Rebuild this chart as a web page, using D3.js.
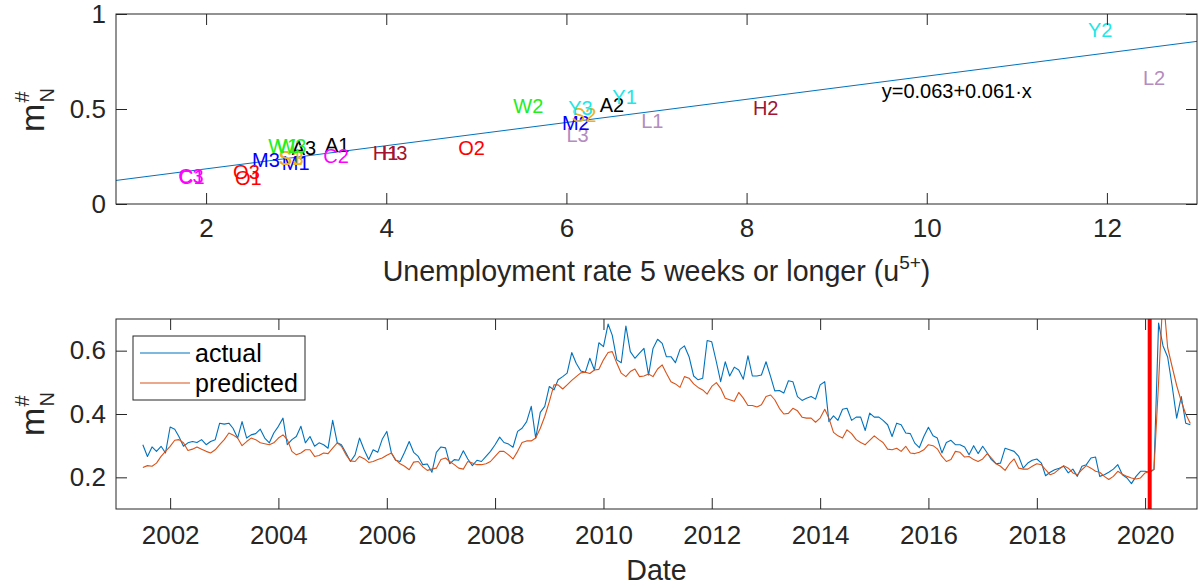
<!DOCTYPE html>
<html><head><meta charset="utf-8">
<script src="https://cdn.jsdelivr.net/npm/d3@7"></script>
<style>
body{margin:0;background:#fff}
text{font-family:"Liberation Sans",Arial,Helvetica,sans-serif}
</style>
</head><body>
<svg id="c" width="1198" height="587"></svg>
<script>
// ---------- DATA ----------
// top panel: labelled points (u5+ rate, m#_N)
const scatterLabels = ["A1","A2","A3","C1","C2","C3","H1","H2","H3","L1","L2","L3","M1","M2","M3","O1","O2","O3","S1","S2","S3","W1","W2","W3","Y1","Y2","Y3"];
const scatterX = [3.32,6.37,2.95,1.70,3.30,1.69,3.85,8.07,3.95,6.83,12.40,6.00,2.84,5.95,2.51,2.32,4.80,2.30,2.80,6.06,2.81,2.69,5.41,2.78,6.51,11.79,6.02];
const scatterY = [0.311,0.521,0.295,0.142,0.253,0.147,0.268,0.505,0.268,0.437,0.663,0.363,0.216,0.426,0.232,0.137,0.295,0.168,0.242,0.468,0.240,0.305,0.516,0.305,0.563,0.916,0.505];
const groupLetters = ["A","C","H","L","M","O","S","W","Y"];
const groupColors  = ["#000000","#ff00ff","#a2142f","#b48cc0","#0000ff","#ff0000","#edb120","#22ee22","#22e6e6"];
const regIntercept = 0.063;
const regSlope = 0.061;
const regText = "y=0.063+0.061·x";
const regTextPos = [9.5, 0.595];
const topXTicks = [2,4,6,8,10,12];
const topYTicks = [0,0.5,1];

// bottom panel: monthly series from Jul 2001 to Nov 2020
const seriesStart = [2001, 6];   // year, month index (July)
const actual = [
0.303,0.266,0.296,0.282,0.298,0.277,0.359,0.352,0.329,0.298,
0.309,0.313,0.310,0.319,0.303,0.313,0.319,0.371,0.368,0.371,
0.355,0.324,0.376,0.324,0.334,0.338,0.352,0.324,0.309,0.340,
0.361,0.387,0.303,0.319,0.329,0.361,0.309,0.329,0.298,0.309,
0.303,0.292,0.380,0.309,0.303,0.277,0.250,0.271,0.324,0.287,
0.256,0.287,0.279,0.320,0.345,0.277,0.254,0.250,0.279,0.313,
0.279,0.266,0.240,0.242,0.216,0.279,0.296,0.293,0.243,0.256,
0.254,0.284,0.258,0.237,0.254,0.250,0.266,0.282,0.303,0.327,
0.310,0.305,0.295,0.345,0.355,0.376,0.424,0.324,0.405,0.424,
0.487,0.476,0.508,0.518,0.529,0.594,0.560,0.536,0.532,0.576,
0.539,0.625,0.613,0.684,0.649,0.571,0.562,0.678,0.597,0.576,
0.592,0.607,0.523,0.607,0.636,0.623,0.581,0.581,0.562,0.604,
0.615,0.581,0.520,0.508,0.513,0.632,0.628,0.565,0.502,0.565,
0.520,0.548,0.539,0.510,0.584,0.520,0.520,0.523,0.565,0.518,
0.473,0.474,0.466,0.505,0.502,0.455,0.443,0.450,0.455,0.447,
0.492,0.502,0.376,0.394,0.380,0.415,0.418,0.380,0.390,0.390,
0.348,0.403,0.390,0.390,0.380,0.366,0.329,0.371,0.366,0.340,
0.338,0.308,0.294,0.329,0.358,0.331,0.324,0.277,0.310,0.317,
0.303,0.303,0.296,0.271,0.300,0.275,0.298,0.277,0.256,0.243,
0.245,0.292,0.287,0.282,0.266,0.229,0.245,0.254,0.258,0.245,
0.205,0.216,0.224,0.229,0.235,0.214,0.226,0.203,0.235,0.240,
0.261,0.264,0.203,0.208,0.216,0.226,0.240,0.208,0.198,0.180,
0.203,0.219,0.219,0.215,0.225,0.687,0.615,0.580,0.490,0.387,
0.455,0.371,0.366];
const predicted = [
0.231,0.237,0.235,0.245,0.266,0.282,0.298,0.317,0.319,0.309,
0.285,0.289,0.296,0.289,0.282,0.277,0.287,0.303,0.319,0.340,
0.334,0.324,0.300,0.313,0.324,0.319,0.309,0.306,0.303,0.309,
0.324,0.334,0.319,0.282,0.271,0.277,0.287,0.287,0.266,0.269,
0.277,0.275,0.292,0.309,0.298,0.271,0.252,0.250,0.266,0.259,
0.247,0.250,0.256,0.261,0.270,0.277,0.256,0.243,0.235,0.224,
0.248,0.250,0.233,0.222,0.226,0.229,0.256,0.261,0.250,0.240,
0.229,0.226,0.250,0.245,0.240,0.240,0.243,0.250,0.266,0.282,
0.282,0.271,0.258,0.282,0.310,0.315,0.315,0.324,0.355,0.392,
0.439,0.492,0.492,0.479,0.492,0.506,0.518,0.530,0.532,0.528,
0.539,0.541,0.571,0.594,0.597,0.560,0.529,0.518,0.534,0.542,
0.518,0.520,0.526,0.518,0.542,0.555,0.529,0.502,0.495,0.484,
0.518,0.513,0.495,0.484,0.476,0.463,0.487,0.499,0.481,0.450,
0.445,0.440,0.468,0.450,0.427,0.427,0.422,0.429,0.455,0.460,
0.445,0.418,0.400,0.402,0.418,0.410,0.390,0.387,0.387,0.374,
0.387,0.415,0.387,0.342,0.331,0.324,0.350,0.338,0.319,0.310,
0.303,0.317,0.331,0.319,0.310,0.289,0.287,0.292,0.282,0.298,
0.277,0.275,0.279,0.287,0.303,0.300,0.290,0.266,0.250,0.256,
0.282,0.279,0.264,0.266,0.256,0.250,0.258,0.275,0.261,0.243,
0.235,0.222,0.243,0.258,0.229,0.226,0.226,0.235,0.243,0.240,
0.224,0.208,0.214,0.226,0.237,0.229,0.214,0.208,0.224,0.237,
0.229,0.219,0.216,0.203,0.193,0.203,0.219,0.210,0.203,0.198,
0.195,0.198,0.214,0.219,0.225,0.500,0.780,0.610,0.550,0.490,
0.440,0.400,0.370];
const seriesNames = ["actual","predicted"];
const seriesColors = ["#0072bd","#d95319"];
const yearTicks = [2002,2004,2006,2008,2010,2012,2014,2016,2018,2020];
const bottomYTicks = [0.2,0.4,0.6];
const breakDate = [2020, 1, 1];
const xDomainDates = [[2001,0,1],[2020,11,16]];

// ---------- DRAW ----------
const svg = d3.select("#c");
const AX = "#262626";
const TICK = 11;

function frame(p){
  svg.append("rect").attr("x",p.l).attr("y",p.t).attr("width",p.r-p.l).attr("height",p.b-p.t)
    .attr("fill","none").attr("stroke",AX).attr("stroke-width",1);
}
function styleAxis(g, fs){
  g.select(".domain").remove();
  g.selectAll(".tick line").attr("stroke",AX).attr("stroke-width",1);
  g.selectAll(".tick text").attr("fill",AX).style("font-size",fs+"px");
}
function axes(p, x, y, xt, yt, xfmt, yfmt, xpad){
  styleAxis(svg.append("g").attr("transform",`translate(0,${p.b})`)
    .call(d3.axisBottom(x).tickValues(xt).tickSize(-TICK).tickPadding(xpad).tickFormat(xfmt)), 26);
  styleAxis(svg.append("g").attr("transform",`translate(0,${p.t})`)
    .call(d3.axisTop(x).tickValues(xt).tickSize(-TICK).tickFormat("")), 26);
  styleAxis(svg.append("g").attr("transform",`translate(${p.l},0)`)
    .call(d3.axisLeft(y).tickValues(yt).tickSize(-TICK).tickPadding(10).tickFormat(yfmt)), 26);
  styleAxis(svg.append("g").attr("transform",`translate(${p.r},0)`)
    .call(d3.axisRight(y).tickValues(yt).tickSize(-TICK).tickFormat("")), 26);
  frame(p);
}
function mLabel(cx, cy){
  const g = svg.append("g").attr("transform",`translate(${cx},${cy}) rotate(-90)`);
  const t = g.append("text").attr("x",0).attr("y",0).attr("fill",AX).style("font-size","34px").text("m");
  const w = t.node().getComputedTextLength();
  const s1 = g.append("text").attr("x",w+1).attr("y",-15).attr("fill",AX).style("font-size","20px").text("#");
  const s2 = g.append("text").attr("x",w+1).attr("y",10).attr("fill",AX).style("font-size","20px").text("N");
  const tot = w + 1 + Math.max(s1.node().getComputedTextLength(), s2.node().getComputedTextLength());
  g.selectAll("text").attr("x", function(){ return +d3.select(this).attr("x") - tot/2; });
}

// ----- top panel -----
const tp = {l:116, r:1197, t:14, b:204};
const xT = d3.scaleLinear().domain([1,13]).range([tp.l,tp.r]);
const yT = d3.scaleLinear().domain([0,1]).range([tp.b,tp.t]);

const regLine = d3.line().x(d=>xT(d)).y(d=>yT(regIntercept+regSlope*d));
svg.append("path").datum(xT.domain()).attr("d",regLine)
  .attr("fill","none").attr("stroke",seriesColors[0]).attr("stroke-width",1);

const colorOf = d3.scaleOrdinal().domain(groupLetters).range(groupColors);
svg.append("g").selectAll("text").data(scatterLabels).join("text")
  .attr("x",(d,i)=>xT(scatterX[i])).attr("y",(d,i)=>yT(scatterY[i]))
  .attr("dy","0.35em").attr("fill",d=>colorOf(d[0]))
  .style("font-size","20px").text(d=>d);

svg.append("text").attr("x",xT(regTextPos[0])).attr("y",yT(regTextPos[1])).attr("dy","0.35em")
  .attr("fill","#000").style("font-size","20px").text(regText);

axes(tp, xT, yT, topXTicks, topYTicks, d3.format("d"), d=>String(d), 15);

const xl = svg.append("text").attr("x",(tp.l+tp.r)/2).attr("y",281).attr("text-anchor","middle")
  .attr("fill",AX).style("font-size","28.6px");
xl.append("tspan").text("Unemployment rate 5 weeks or longer (u");
xl.append("tspan").attr("dy",-12).style("font-size","19px").text("5+");
xl.append("tspan").attr("dy",12).text(")");
mLabel(44, 110);

// ----- bottom panel -----
const bp = {l:116, r:1197, t:319, b:509};
const dates = actual.map((v,i)=>new Date(Date.UTC(seriesStart[0], seriesStart[1]+i, 1)));
const xB = d3.scaleUtc().domain(xDomainDates.map(a=>new Date(Date.UTC(a[0],a[1],a[2])))).range([bp.l,bp.r]);
const yB = d3.scaleLinear().domain([0.1,0.7]).range([bp.b,bp.t]);

svg.append("clipPath").attr("id","clipB").append("rect")
  .attr("x",bp.l).attr("y",bp.t).attr("width",bp.r-bp.l).attr("height",bp.b-bp.t);
const line = d3.line().x((d,i)=>xB(dates[i])).y(d=>yB(d));
const gL = svg.append("g").attr("clip-path","url(#clipB)");
[actual, predicted].forEach((s,k)=>{
  gL.append("path").datum(s).attr("d",line).attr("fill","none")
    .attr("stroke",seriesColors[k]).attr("stroke-width",1.1).attr("stroke-linejoin","round");
});
const bx = xB(new Date(Date.UTC(breakDate[0],breakDate[1],breakDate[2])));
gL.append("line").attr("x1",bx).attr("x2",bx).attr("y1",bp.t).attr("y2",bp.b)
  .attr("stroke","#ff0000").attr("stroke-width",4);

axes(bp, xB, yB, yearTicks.map(y=>new Date(Date.UTC(y,0,1))), bottomYTicks,
     d3.utcFormat("%Y"), d=>String(d), 17);

svg.append("text").attr("x",(bp.l+bp.r)/2).attr("y",580).attr("text-anchor","middle")
  .attr("fill",AX).style("font-size","28.6px").text("Date");
mLabel(44, 414);

// legend
const lg = svg.append("g");
lg.append("rect").attr("x",133).attr("y",336).attr("width",172).attr("height",64)
  .attr("fill","#fff").attr("stroke",AX).attr("stroke-width",1);
seriesNames.forEach((n,k)=>{
  const yy = 353 + k*30;
  lg.append("line").attr("x1",140).attr("x2",190).attr("y1",yy).attr("y2",yy)
    .attr("stroke",seriesColors[k]).attr("stroke-width",1.1);
  lg.append("text").attr("x",195).attr("y",yy).attr("dy","0.35em").attr("fill","#000")
    .style("font-size","25px").text(n);
});
</script>
</body></html>
